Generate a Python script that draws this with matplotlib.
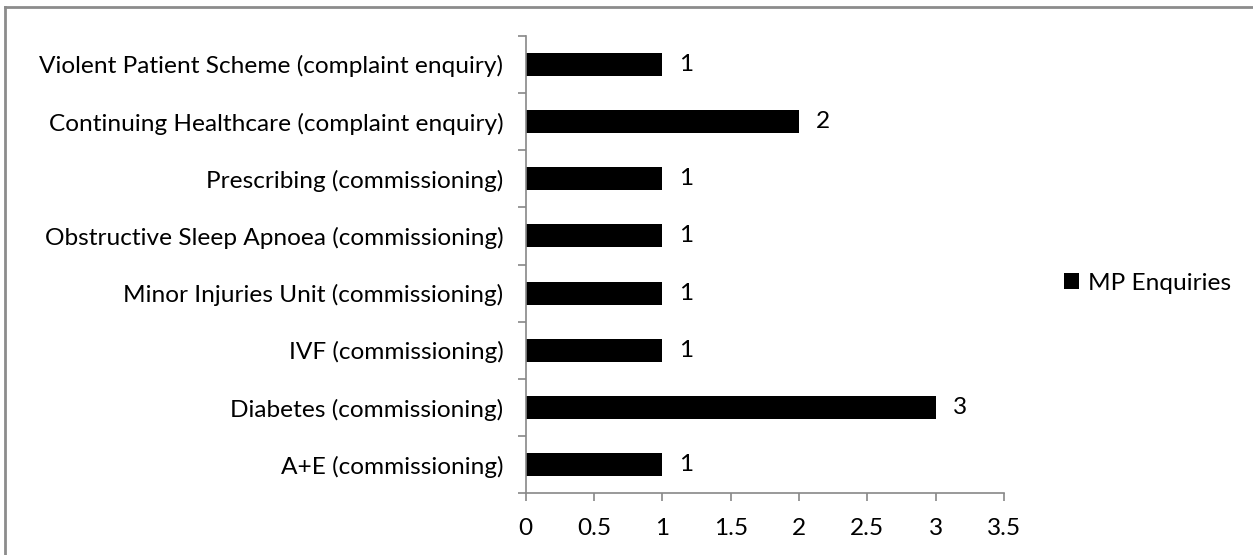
import matplotlib.pyplot as plt
from matplotlib.lines import Line2D

categories = [
    "A+E (commissioning)",
    "Diabetes (commissioning)",
    "IVF (commissioning)",
    "Minor Injuries Unit (commissioning)",
    "Obstructive Sleep Apnoea (commissioning)",
    "Prescribing (commissioning)",
    "Continuing Healthcare (complaint enquiry)",
    "Violent Patient Scheme (complaint enquiry)",
]
enquiries = [1, 3, 1, 1, 1, 1, 2, 1]
series_name = "MP Enquiries"
xticks = [0, 0.5, 1, 1.5, 2, 2.5, 3, 3.5]

plt.rcParams['font.family'] = ['Lato', 'DejaVu Sans']
axis_grey = '#888888'
fs = 17.6

fig = plt.figure(figsize=(12.53, 5.55), dpi=100)
ax = fig.add_axes([525.7 / 1253, (555 - 493.3) / 555, (1004 - 525.7) / 1253, (493.3 - 35.7) / 555])

pos = list(range(len(categories)))
bars = ax.barh(pos, enquiries, height=0.4, color='black', label=series_name)
for y, v in zip(pos, enquiries):
    ax.text(v + 0.125, y, str(v), va='center', ha='left', fontsize=fs, color='black')

ax.set_xlim(0, 3.5)
ax.set_ylim(-0.5, len(categories) - 0.5)
ax.set_xticks(xticks)
ax.set_xticklabels([f"{t:g}" for t in xticks], fontsize=fs)
ax.set_yticks(pos)
ax.set_yticklabels(categories, fontsize=fs)
ax.tick_params(axis='y', length=0, pad=16)
ax.set_yticks([p - 0.5 for p in pos] + [len(categories) - 0.5], minor=True)
ax.tick_params(axis='y', which='minor', length=5.8, color=axis_grey, width=1.2)
ax.tick_params(axis='x', length=5.8, color=axis_grey, width=1.2, pad=12)

for s in ['top', 'right']:
    ax.spines[s].set_visible(False)
for s in ['left', 'bottom']:
    ax.spines[s].set_color(axis_grey)
    ax.spines[s].set_linewidth(1.2)

fig.legend(handles=[bars], labels=[series_name], loc='center left',
           bbox_to_anchor=(1042 / 1253, 1 - 283 / 555), frameon=False,
           fontsize=fs, handlelength=0.6, handleheight=0.6, handletextpad=0.4)

# outer chart border (only top and left visible in the reference crop)
fig.add_artist(Line2D([5 / 1253, 5 / 1253], [0, 1 - 7 / 555], transform=fig.transFigure,
                      color='#8c8c8c', lw=2))
fig.add_artist(Line2D([5 / 1253, 1], [1 - 7 / 555, 1 - 7 / 555], transform=fig.transFigure,
                      color='#8c8c8c', lw=2))

fig.savefig("out.png", dpi=100)
